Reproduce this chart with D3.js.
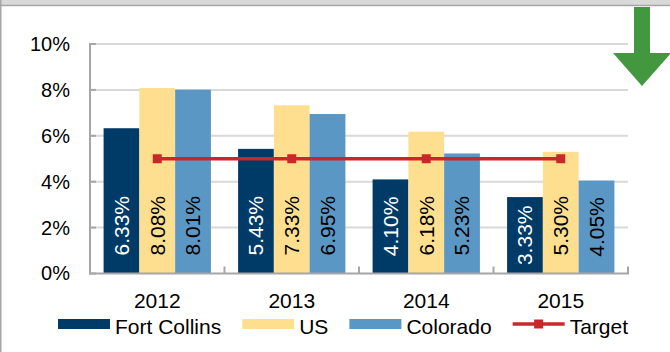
<!DOCTYPE html>
<html>
<head>
<meta charset="utf-8">
<script src="https://cdn.jsdelivr.net/npm/d3@7"></script>
<style>
  body { margin: 0; background: #fff; }
  svg { display: block; font-family: "Liberation Sans", Arial, sans-serif; }
</style>
</head>
<body>
<svg id="chart" width="670" height="352"></svg>
<script>
// Unemployment rate by year: Fort Collins vs US vs Colorado, with a 5% target
const years = ["2012", "2013", "2014", "2015"];
const seriesNames = ["Fort Collins", "US", "Colorado"];
const fortCollins = [6.33, 5.43, 4.10, 3.33];
const us = [8.08, 7.33, 6.18, 5.30];
const colorado = [8.01, 6.95, 5.23, 4.05];
const target = [5, 5, 5, 5];
const targetName = "Target";
const yTicks = [0, 2, 4, 6, 8, 10];

const seriesValues = [fortCollins, us, colorado];
const barColors = ["#003b68", "#fddf8f", "#5a97c4"];
const labelColors = ["#ffffff", "#000000", "#000000"];
const targetColor = "#c9282b";
const FONT = "'Liberation Sans', Arial, sans-serif";

const svg = d3.select("#chart");
const W = 670, H = 352;
const plot = { left: 90, right: 628, top: 44, bottom: 273.5 };

// Frame: grey strip on top and a thin left border
svg.append("rect").attr("x", 0).attr("y", 0).attr("width", W).attr("height", 5).attr("fill", "#d9d9d9");
svg.append("line").attr("x1", 0).attr("x2", W).attr("y1", 5.5).attr("y2", 5.5)
  .attr("stroke", "#a6a6a6").attr("stroke-width", 1.5);
svg.append("line").attr("x1", 0.75).attr("x2", 0.75).attr("y1", 0).attr("y2", H)
  .attr("stroke", "#a6a6a6").attr("stroke-width", 1.5);

const y = d3.scaleLinear().domain([0, 10]).range([plot.bottom, plot.top]);
const x0 = d3.scaleBand().domain(years).range([plot.left, plot.right]).padding(0);
const x1 = d3.scaleBand().domain(seriesNames).range([0, x0.bandwidth()])
  .paddingInner(0).paddingOuter(0.38);

// Gridlines
svg.append("g").selectAll("line").data(yTicks.filter(d => d > 0)).join("line")
  .attr("x1", plot.left).attr("x2", plot.right)
  .attr("y1", d => y(d)).attr("y2", d => y(d))
  .attr("stroke", "#d9d9d9").attr("stroke-width", 2);

// Y axis
const yAxis = svg.append("g").attr("transform", `translate(${plot.left},0)`)
  .call(d3.axisLeft(y).tickValues(yTicks).tickFormat(d => d + "%").tickSize(0).tickPadding(20));
yAxis.select(".domain").remove();
yAxis.attr("font-family", FONT).attr("font-size", 20);
yAxis.selectAll("text").attr("fill", "#000");
svg.append("g").selectAll("line").data(yTicks).join("line")
  .attr("x1", plot.left).attr("x2", plot.left + 6)
  .attr("y1", d => y(d)).attr("y2", d => y(d))
  .attr("stroke", "#a6a6a6").attr("stroke-width", 2);
svg.append("line").attr("x1", plot.left).attr("x2", plot.left)
  .attr("y1", plot.top - 1).attr("y2", plot.bottom + 1)
  .attr("stroke", "#a6a6a6").attr("stroke-width", 2);

// Bars
const groups = svg.append("g").selectAll("g").data(years).join("g")
  .attr("transform", d => `translate(${x0(d)},0)`);

const barData = (yr, i) => seriesNames.map((s, k) => ({ series: s, k, value: seriesValues[k][i] }));

groups.selectAll("rect").data(barData).join("rect")
  .attr("x", d => x1(d.series))
  .attr("width", x1.bandwidth())
  .attr("y", d => y(d.value))
  .attr("height", d => y(0) - y(d.value))
  .attr("fill", d => barColors[d.k]);

// Value labels, rotated and set inside the base of each bar
groups.each(function (yr, i) {
  const g = d3.select(this);
  barData(yr, i).forEach(d => {
    const cx = x1(d.series) + x1.bandwidth() / 2;
    const t = g.append("text")
      .attr("font-family", FONT)
      .attr("font-size", 21)
      .attr("fill", labelColors[d.k])
      .attr("dy", "0.35em")
      .attr("text-anchor", "start")
      .text(d.value.toFixed(2) + "%");
    const len = t.node().getComputedTextLength();
    const barH = y(0) - y(d.value);
    const pad = 18;
    let bottom = y(0) - pad;
    if (barH < len + 2 * pad) bottom = y(0) - (barH - len) / 2;
    t.attr("transform", `translate(${cx},${bottom}) rotate(-90)`);
  });
});

// X axis baseline and category separators
svg.append("line").attr("x1", plot.left - 1).attr("x2", plot.right + 1)
  .attr("y1", plot.bottom).attr("y2", plot.bottom)
  .attr("stroke", "#a6a6a6").attr("stroke-width", 2);
const edges = years.map(d => x0(d)).concat([plot.right]);
svg.append("g").selectAll("line").data(edges.slice(1)).join("line")
  .attr("x1", d => d).attr("x2", d => d)
  .attr("y1", plot.bottom).attr("y2", plot.bottom - 7)
  .attr("stroke", "#a6a6a6").attr("stroke-width", 2);

const xAxis = svg.append("g").attr("transform", `translate(0,${plot.bottom})`)
  .call(d3.axisBottom(x0).tickSize(0).tickPadding(20));
xAxis.select(".domain").remove();
xAxis.attr("font-family", FONT).attr("font-size", 21);
xAxis.selectAll("text").attr("fill", "#000");

// Target line
const line = d3.line().x((d, i) => x0(years[i]) + x0.bandwidth() / 2).y(d => y(d));
svg.append("path").datum(target).attr("d", line)
  .attr("fill", "none").attr("stroke", targetColor).attr("stroke-width", 3.5);
svg.append("g").selectAll("rect").data(target).join("rect")
  .attr("x", (d, i) => x0(years[i]) + x0.bandwidth() / 2 - 4.5)
  .attr("y", d => y(d) - 4.5)
  .attr("width", 9).attr("height", 9)
  .attr("fill", targetColor);

// Legend
const legend = svg.append("g").attr("font-size", 21).attr("font-family", FONT);
let lx = 58;
const swW = 52, ly = 324;
seriesNames.concat([targetName]).forEach((name, k) => {
  if (k < 3) {
    legend.append("rect").attr("x", lx).attr("y", ly - 5).attr("width", swW).attr("height", 10)
      .attr("fill", barColors[k]);
  } else {
    legend.append("line").attr("x1", lx).attr("x2", lx + swW).attr("y1", ly).attr("y2", ly)
      .attr("stroke", targetColor).attr("stroke-width", 3.5);
    legend.append("rect").attr("x", lx + swW / 2 - 4.5).attr("y", ly - 4.5)
      .attr("width", 9).attr("height", 9).attr("fill", targetColor);
  }
  const t = legend.append("text").attr("x", lx + swW + 5).attr("y", ly + 10).attr("fill", "#000").text(name);
  lx += swW + 5 + t.node().getComputedTextLength() + 21;
});

// Downward arrow in the top-right corner
const arrow = d3.path();
arrow.moveTo(634, 7); arrow.lineTo(650, 7); arrow.lineTo(650, 53); arrow.lineTo(671, 53);
arrow.lineTo(642, 86); arrow.lineTo(613, 53); arrow.lineTo(634, 53); arrow.closePath();
svg.append("path").attr("d", arrow.toString()).attr("fill", "#43983f");
</script>
</body>
</html>
